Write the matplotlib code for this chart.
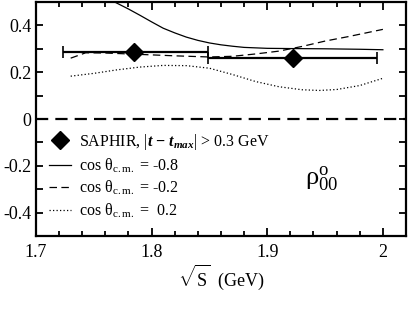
import numpy as np
import matplotlib
matplotlib.use("Agg")
import matplotlib.pyplot as plt
from matplotlib.ticker import MultipleLocator, FixedLocator

plt.rcParams['font.family'] = ['Liberation Serif', 'DejaVu Serif']
plt.rcParams['mathtext.fontset'] = 'custom'
plt.rcParams['mathtext.rm'] = 'Liberation Serif'
plt.rcParams['mathtext.it'] = 'Liberation Serif:italic'
plt.rcParams['mathtext.bf'] = 'Liberation Serif:bold'
plt.rcParams['mathtext.bfit'] = 'Liberation Serif:bold:italic'

# SAPHIR data
saphir_x = [1.785, 1.922]
saphir_y = [0.285, 0.260]
saphir_xlo = [1.723, 1.849]
saphir_xhi = [1.849, 1.995]

# model curves
solid_x = [1.768, 1.78, 1.79, 1.80, 1.81, 1.82, 1.83, 1.84, 1.85, 1.86, 1.87, 1.88, 1.90, 1.92, 1.95, 1.98, 2.00]
solid_y = [0.500, 0.470, 0.443, 0.415, 0.388, 0.368, 0.350, 0.336, 0.325, 0.317, 0.311, 0.306, 0.302, 0.301, 0.300, 0.298, 0.296]

dash_x = [1.730, 1.743, 1.76, 1.78, 1.80, 1.82, 1.85, 1.87, 1.89, 1.91, 1.93, 1.95, 1.97, 2.00]
dash_y = [0.260, 0.283, 0.282, 0.278, 0.274, 0.270, 0.265, 0.268, 0.278, 0.290, 0.310, 0.333, 0.352, 0.383]

dot_x = [1.730, 1.75, 1.77, 1.79, 1.81, 1.83, 1.85, 1.87, 1.89, 1.91, 1.93, 1.945, 1.96, 1.98, 2.00]
dot_y = [0.183, 0.195, 0.210, 0.222, 0.229, 0.228, 0.217, 0.190, 0.160, 0.138, 0.125, 0.122, 0.126, 0.143, 0.174]

fig = plt.figure(figsize=(4.09, 3.16), dpi=100)
ax = fig.add_axes([36/409, 80/316, 370/409, 234/316])

# zero line
ax.axhline(0, color='black', lw=1.6, dashes=(5.5, 3.2))

ax.plot(solid_x, solid_y, color='black', lw=0.9, label=r'cos $\mathrm{\theta}_{\mathrm{c.m.}}$ = -0.8')
ax.plot(dash_x, dash_y, color='black', lw=0.9, dashes=(6, 3.5), label=r'cos $\mathrm{\theta}_{\mathrm{c.m.}}$ = -0.2')
ax.plot(dot_x, dot_y, color='black', lw=0.9, dashes=(1, 1.8), label=r'cos $\mathrm{\theta}_{\mathrm{c.m.}}$ =  0.2')

xerr = [np.array(saphir_x) - np.array(saphir_xlo), np.array(saphir_xhi) - np.array(saphir_x)]
ax.errorbar(saphir_x, saphir_y, xerr=xerr, fmt='none', ecolor='black',
            elinewidth=1.6, capsize=4, capthick=1.2, zorder=5)
ax.plot(saphir_x, saphir_y, 'D', color='black', markersize=9, zorder=6,
        label=r'SAPHIR, $|\mathbfit{t}$ $\mathbf{-}$ $\mathbfit{t}_{\mathbfit{max}}|$ > 0.3 GeV')

ax.set_xlim(1.7, 2.02)
ax.set_ylim(-0.5, 0.5)
ax.xaxis.set_major_locator(FixedLocator([1.7, 1.8, 1.9, 2.0]))
ax.xaxis.set_minor_locator(MultipleLocator(0.02))
ax.yaxis.set_major_locator(FixedLocator([-0.4, -0.2, 0, 0.2, 0.4]))
ax.yaxis.set_minor_locator(MultipleLocator(0.1))
ax.set_xticklabels(['1.7', '1.8', '1.9', '2'])
ax.set_yticklabels(['-0.4', '-0.2', '0', '0.2', '0.4'])
ax.tick_params(which='both', direction='in', top=True, right=True, labelsize=13, width=1.3)
ax.tick_params(which='major', axis='x', length=6)
ax.tick_params(which='minor', axis='x', length=3.5)
ax.tick_params(which='both', axis='y', length=5)
ax.tick_params(axis='x', pad=6)
for s in ax.spines.values():
    s.set_linewidth(1.6)

ax.set_xlabel(r'$\sqrt{\mathrm{S}}$  (GeV)', fontsize=13, labelpad=1)

ax.text(0.727, 0.22, r'$\mathrm{\rho}^{\mathrm{o}}_{\mathrm{00}}$', transform=ax.transAxes, fontsize=19)

h, l = ax.get_legend_handles_labels()
order = [3, 0, 1, 2]
ax.legend([h[i] for i in order], [l[i] for i in order], loc='lower left', frameon=False,
          fontsize=11.5, handlelength=1.4, handletextpad=0.5, labelspacing=0.27,
          borderaxespad=0.3, bbox_to_anchor=(0.005, 0.02))

fig.savefig('out.png', dpi=100)
